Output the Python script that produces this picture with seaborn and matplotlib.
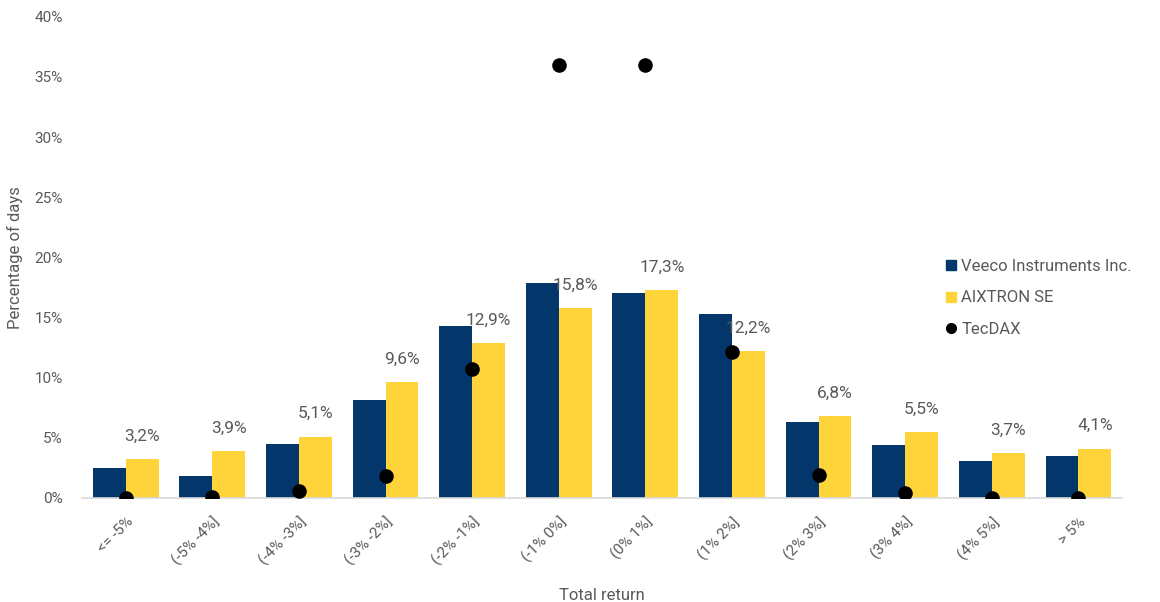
import pandas as pd
import numpy as np
from matplotlib import pyplot as plt
from matplotlib.lines import Line2D
import seaborn as sns

sns.set_style("white")
plt.rcParams['font.family'] = ['Roboto', 'DejaVu Sans']

CATEGORIES = ["<= -5%", "(-5% -4%]", "(-4% -3%]", "(-3% -2%]", "(-2% -1%]", "(-1% 0%]",
              "(0% 1%]", "(1% 2%]", "(2% 3%]", "(3% 4%]", "(4% 5%]", "> 5%"]
VEECO = [2.5, 1.85, 4.5, 8.1, 14.3, 17.9, 17.0, 15.3, 6.3, 4.4, 3.1, 3.5]
AIXTRON = [3.2, 3.9, 5.1, 9.6, 12.9, 15.8, 17.3, 12.2, 6.8, 5.5, 3.7, 4.1]
TECDAX = [0.0, 0.1, 0.6, 1.8, 10.7, 36.0, 36.0, 12.1, 1.9, 0.4, 0.0, 0.0]
SERIES = ["Veeco Instruments Inc.", "AIXTRON SE", "TecDAX"]
YTICKS = [0, 5, 10, 15, 20, 25, 30, 35, 40]

NAVY = "#03376b"
YELLOW = "#ffd43b"
GREY = "#595959"

bars = pd.DataFrame({
    "category": CATEGORIES * 2,
    "series": [SERIES[0]] * len(CATEGORIES) + [SERIES[1]] * len(CATEGORIES),
    "value": VEECO + AIXTRON,
})
dots = pd.DataFrame({"category": CATEGORIES, "value": TECDAX})

fig = plt.figure(figsize=(11.6, 6.02), dpi=100)
ax = fig.add_axes([0.071, 0.173, 0.896, 0.799])

sns.barplot(data=bars, x="category", y="value", hue="series", order=CATEGORIES,
            palette=[NAVY, YELLOW], width=0.76, saturation=1, legend=False,
            edgecolor="none", linewidth=0, ax=ax)
sns.stripplot(data=dots, x="category", y="value", order=CATEGORIES, jitter=False,
              color="black", size=10.5, zorder=4, ax=ax)

# data labels on the AIXTRON bars
for rect, v in zip(ax.containers[1], AIXTRON):
    ax.annotate(f"{v:.1f}".replace(".", ",") + "%",
                (rect.get_x() + rect.get_width() / 2, rect.get_height()),
                xytext=(0, 11), textcoords="offset points",
                ha="center", va="bottom", fontsize=12.5, color=GREY)

ax.set_ylim(0, 40)
ax.set_yticks(YTICKS)
ax.set_yticklabels([f"{t}%" for t in YTICKS])
ax.set_xlim(-0.5, len(CATEGORIES) - 0.5)
ax.tick_params(axis="both", length=0, colors=GREY, labelsize=11)
ax.tick_params(axis="y", pad=14)
plt.setp(ax.get_xticklabels(), rotation=45, ha="right", rotation_mode="anchor")
ax.tick_params(axis="x", pad=12)

for s in ["left", "right", "top"]:
    ax.spines[s].set_visible(False)
ax.spines["bottom"].set_color("#d9d9d9")
ax.spines["bottom"].set_linewidth(1.2)

ax.set_xlabel("Total return", color=GREY, fontsize=12, labelpad=14)
ax.set_ylabel("Percentage of days", color=GREY, fontsize=12, labelpad=8)

handles = [
    Line2D([], [], marker="s", color=NAVY, linestyle="none", markersize=7),
    Line2D([], [], marker="s", color=YELLOW, linestyle="none", markersize=7),
    Line2D([], [], marker="o", color="black", linestyle="none", markersize=7),
]
leg = fig.legend(handles, SERIES, loc="upper left", bbox_to_anchor=(0.8, 0.595),
                 frameon=False, fontsize=12, handletextpad=0.1, labelspacing=1.0,
                 handlelength=1.0)
for t in leg.get_texts():
    t.set_color(GREY)

fig.savefig("out.png", dpi=100)
